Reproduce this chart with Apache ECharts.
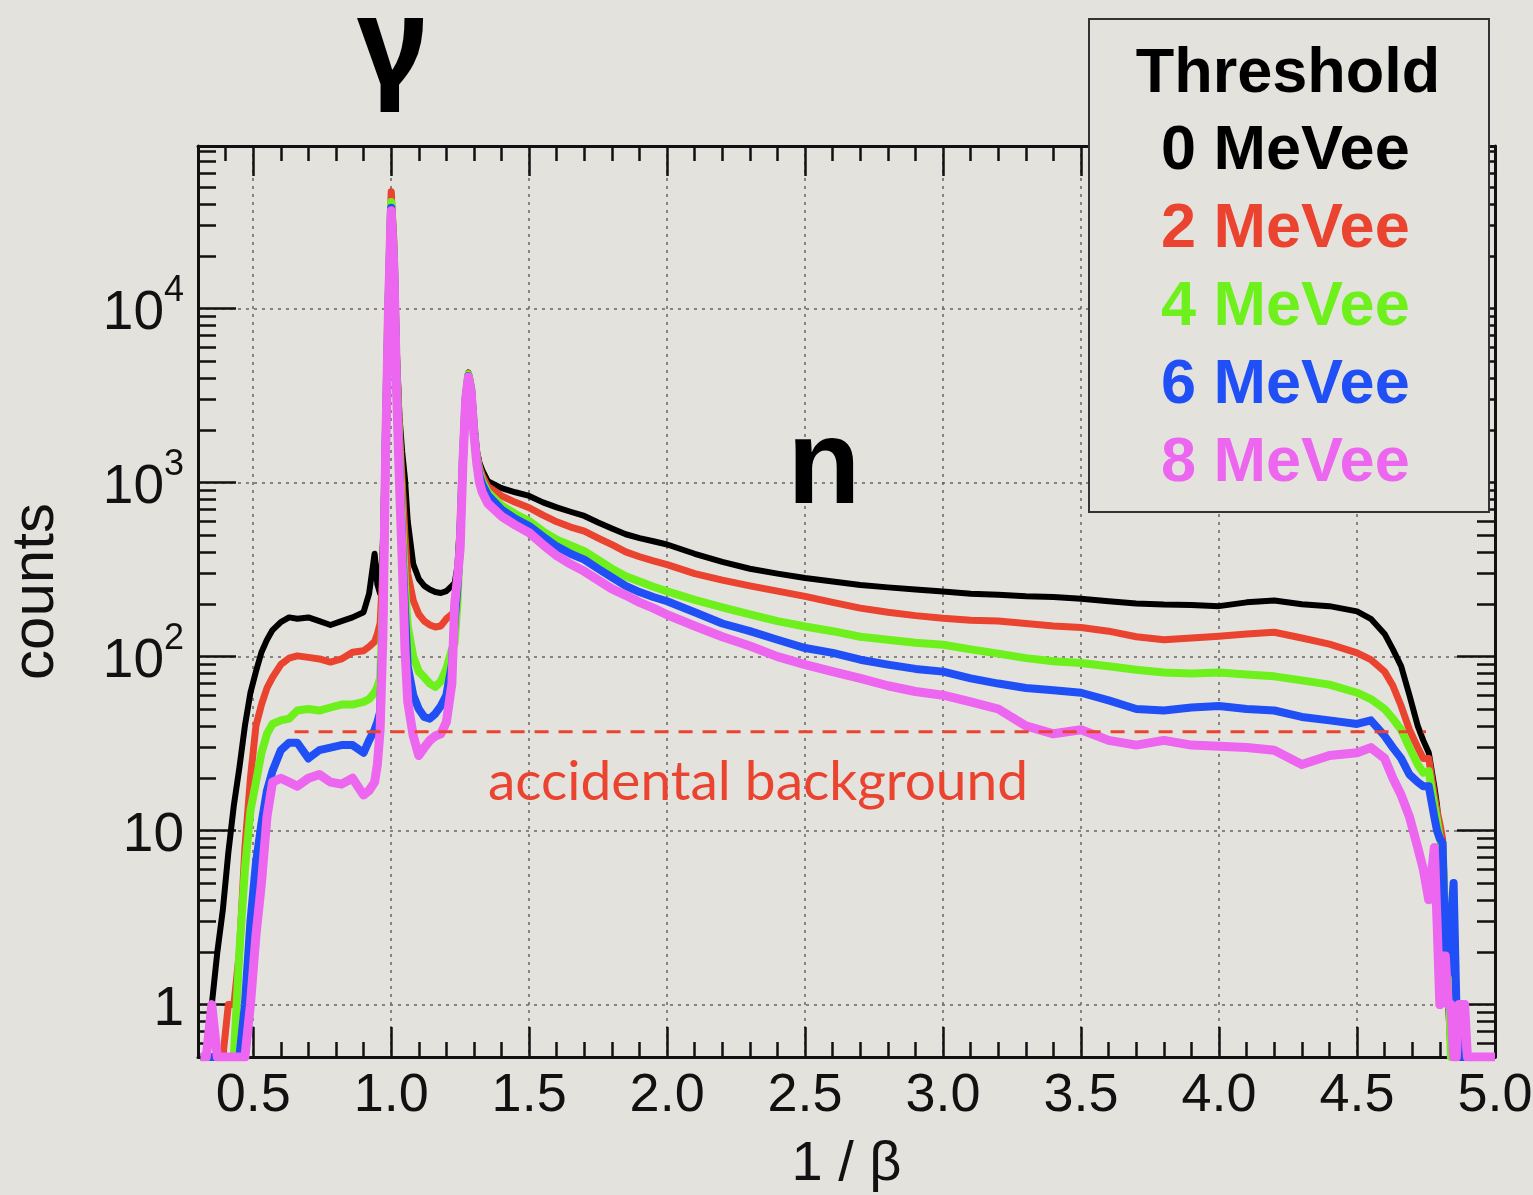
<!DOCTYPE html>
<html>
<head>
<meta charset="utf-8">
<title>1/beta spectrum</title>
<script src="https://cdn.jsdelivr.net/npm/echarts@6/dist/echarts.min.js"></script>
<style>
    html, body { margin: 0; padding: 0; background: #e4e2dd; }
    #main { width: 1533px; height: 1195px; }
</style>
</head>
<body>
<div id="main"></div>
<script>
// bin positions (1/beta)
var xs = [
    0.31, 0.33, 0.35, 0.37, 0.39, 0.41, 0.43, 0.45, 0.47, 0.49, 0.51, 0.53, 0.55, 0.57,
    0.60, 0.63, 0.66, 0.70, 0.74, 0.78, 0.82, 0.86, 0.90, 0.92, 0.94,
    0.95, 0.96, 0.97, 0.98, 0.99, 1.00, 1.01, 1.02, 1.03, 1.04, 1.05, 1.06,
    1.08, 1.10, 1.12, 1.14, 1.16, 1.18, 1.20, 1.22,
    1.23, 1.24, 1.25, 1.26, 1.27, 1.28, 1.29, 1.30, 1.31, 1.32, 1.33, 1.35,
    1.40, 1.45, 1.50, 1.55, 1.60, 1.65, 1.70, 1.75, 1.80, 1.85, 1.90, 1.95, 2.00,
    2.10, 2.20, 2.30, 2.40, 2.50, 2.60, 2.70, 2.80, 2.90, 3.00, 3.10, 3.20, 3.30, 3.40, 3.50,
    3.60, 3.70, 3.80, 3.90, 4.00, 4.10, 4.20, 4.30, 4.40, 4.50,
    4.55, 4.60, 4.63, 4.66, 4.69, 4.72, 4.74, 4.76, 4.78,
    4.79, 4.80, 4.81, 4.82, 4.83, 4.84, 4.85, 4.86, 4.87, 4.88, 4.89, 4.90, 4.95, 5.00
];

// counts per threshold (empty bins drawn on the bottom edge)
var counts0 = [
    0.5, 0.5, 1, 2, 3.5, 7.5, 14, 23, 40, 62, 82, 106, 125, 142,
    158, 168, 165, 168, 160, 152, 160, 168, 180, 230, 390,
    260, 230, 450, 2200, 12000, 47000, 26000, 6000, 2400, 1500, 1050, 600,
    340, 280, 255, 243, 235, 232, 238, 255,
    265, 330, 620, 1500, 3200, 4300, 3600, 2200, 1550, 1300, 1180, 1020,
    930, 880, 838, 770, 720, 680, 643, 590, 545, 505, 480, 460, 441,
    390, 350, 320, 300, 283, 270, 258, 250, 243, 237, 230, 227, 222, 220, 215,
    208, 202, 199, 198, 195, 205, 210, 200, 195, 182,
    165, 135, 110, 88, 60, 40, 33, 28, 18,
    14, 9, 4, 1.5, 1, 0.5, 0.5, 0.5, 0.5, 0.5, 0.5, 0.5, 0.5, 0.5
];
var counts2 = [
    0.5, 0.5, 0.5, 0.5, 0.5, 1, 1, 2, 8, 20, 40, 53, 66, 76,
    90, 98, 101, 99, 97, 93, 97, 106, 108, 114, 122,
    135, 155, 320, 2000, 11500, 47000, 24000, 5000, 2000, 1000, 500, 300,
    210, 175, 160, 152, 148, 150, 165, 175,
    185, 270, 560, 1450, 3150, 4250, 3550, 2150, 1480, 1230, 1100, 950,
    840, 770, 717, 650, 595, 555, 526, 480, 440, 400, 375, 355, 338,
    300, 275, 255, 238, 222, 205, 190, 180, 172, 166, 162, 160, 155, 150, 147,
    140, 130, 125, 128, 131, 135, 138, 128, 118, 105,
    96, 82, 68, 52, 38, 30, 26, 26, 16,
    13, 11, 9, 3, 2.5, 0.5, 0.5, 0.5, 0.5, 0.5, 0.5, 0.5, 0.5, 0.5
];
var counts4 = [
    0.5, 0.5, 0.5, 0.5, 0.5, 0.5, 0.5, 2, 6, 13, 19, 28, 36, 41,
    43, 44, 49, 50, 49, 51, 53, 53, 55, 57, 62,
    67, 75, 200, 1800, 10500, 41000, 20000, 4000, 1500, 600, 260, 150,
    100, 82, 76, 70, 67, 72, 85, 110,
    120, 200, 500, 1400, 3100, 4200, 3500, 2100, 1400, 1150, 1020, 880,
    740, 660, 601, 525, 470, 435, 404, 360, 320, 290, 270, 252, 237,
    212, 192, 175, 160, 149, 140, 130, 125, 120, 117, 110, 104, 98, 94, 92,
    88, 84, 81, 80, 81, 79, 77, 73, 69, 62,
    57, 50, 44, 38, 30, 24, 21.5, 22, 14,
    11.5, 9, 8, 3, 2, 0.5, 0.5, 0.5, 0.5, 0.5, 0.5, 0.5, 0.5, 0.5
];
var counts6 = [
    0.5, 0.5, 0.5, 0.5, 0.5, 0.5, 0.5, 0.5, 1, 3, 6.5, 11, 17, 22,
    29, 32, 32, 26, 29, 30, 31, 31, 28, 33, 38,
    42, 48, 150, 1600, 10000, 38000, 18000, 3500, 1200, 450, 180, 88,
    60, 50, 45, 44, 47, 52, 60, 90,
    160, 250, 460, 1350, 3050, 4100, 3400, 2000, 1350, 1100, 980, 850,
    700, 620, 563, 490, 430, 390, 361, 320, 285, 255, 235, 220, 208,
    180, 155, 140, 125, 112, 105, 96, 90, 85, 82, 75, 70, 66, 64, 62,
    56, 50, 49, 51, 52, 50, 49, 45, 43, 41,
    43, 35, 30, 26, 21, 19, 18, 18, 12,
    10, 9, 8.5, 2, 1.5, 3, 5, 1, 0.5, 0.5, 0.5, 0.5, 0.5, 0.5
];
var counts8 = [
    0.5, 0.5, 1, 0.5, 0.5, 0.5, 0.5, 0.5, 0.5, 1, 2.5, 5, 12, 19,
    20, 19, 18, 20, 21, 19, 18.5, 20, 16, 17, 19,
    24, 38, 130, 1500, 9500, 36500, 17000, 3200, 1000, 350, 110, 55,
    35, 27, 30, 33, 35, 36, 42, 70,
    200, 280, 420, 1300, 3000, 4050, 3300, 1900, 1300, 1000, 880, 760,
    640, 570, 515, 440, 380, 340, 309, 275, 245, 225, 205, 190, 174,
    150, 130, 115, 100, 90, 82, 75, 68, 63, 60, 55, 50, 40, 36, 38,
    33, 31, 33, 31, 30.5, 30, 29, 24, 27, 28,
    30, 26, 20, 16, 12, 8, 6, 4, 8,
    3, 1, 1.9, 1.9, 1, 1, 0.5, 0.5, 1, 1, 1, 0.5, 0.5, 0.5
];

var thresholds = ['0 MeVee', '2 MeVee', '4 MeVee', '6 MeVee', '8 MeVee'];
var allCounts = [counts0, counts2, counts4, counts6, counts8];
var colors = ['#000000', '#ea432f', '#6df01c', '#1f4ff5', '#ec66ef'];
var widths = [6, 7, 8, 8, 9];

// accidental background level
var bgLevel = 37;
var bgFrom = 0.65;
var bgTo = 4.75;

var xMin = 0.3, xMax = 5.0;
var yMin = 0.5, yMax = 86000;

var bgColor = '#e4e2dd';
var labelFont = "'Liberation Sans', Arial, sans-serif";

function pairs(vals) {
    var out = [];
    for (var i = 0; i < xs.length; i++) {
        out.push([xs[i], vals[i]]);
    }
    return out;
}

var series = [];
for (var k = 0; k < thresholds.length; k++) {
    series.push({
        name: thresholds[k],
        type: 'line',
        data: pairs(allCounts[k]),
        showSymbol: false,
        clip: true,
        z: 2 + k * 0.01,
        lineStyle: { color: colors[k], width: widths[k], join: 'round' },
        itemStyle: { color: colors[k] },
        emphasis: { disabled: true }
    });
}
series.push({
    name: 'accidental',
    type: 'line',
    data: [[bgFrom, bgLevel], [bgTo, bgLevel]],
    showSymbol: false,
    z: 3,
    lineStyle: { color: '#ea432f', width: 3, type: [14, 10] },
    emphasis: { disabled: true }
});

var tickStyle = { color: '#111', width: 2.5 };
var gridLine = { show: true, lineStyle: { color: '#666', width: 1.5, type: [3, 5] } };

function yLabel(v) {
    var l = Math.log10(v);
    var e = Math.round(l);
    if (Math.abs(l - e) > 1e-6) return '';
    if (e === 0) return '{b|1}';
    if (e === 1) return '{b|10}';
    return '{b|10}{s|' + e + '}';
}

function xLabel(v) {
    if (Math.abs(v * 2 - Math.round(v * 2)) > 1e-6) return '';
    return v.toFixed(1);
}

var myChart = echarts.init(document.getElementById('main'));
var option = {
    backgroundColor: bgColor,
    animation: false,
    grid: { left: 198, right: 38, top: 146, bottom: 138, outerBoundsMode: 'none' },
    legend: {
        orient: 'vertical',
        left: 1155,
        top: 113,
        padding: 0,
        itemGap: 0,
        itemWidth: 0,
        itemHeight: 0,
        selectedMode: false,
        z: 6,
        textStyle: { fontSize: 63, fontWeight: 'bold', fontFamily: "'Liberation Sans', Arial, sans-serif", lineHeight: 78 },
        data: thresholds.map(function (t, i) {
            return { name: t, textStyle: { color: colors[i] } };
        })
    },
    xAxis: [{
        type: 'value',
        min: xMin,
        max: xMax,
        splitNumber: 10,
        name: '1 / β',
        nameLocation: 'middle',
        nameGap: 80,
        nameTextStyle: { fontSize: 56, color: '#111', fontFamily: labelFont },
        axisLine: { show: true, lineStyle: { color: '#111', width: 3 } },
        axisTick: { show: true, inside: true, length: 30, lineStyle: tickStyle },
        minorTick: { show: true, splitNumber: 5, length: 15, lineStyle: tickStyle },
        splitLine: gridLine,
        axisLabel: {
            formatter: xLabel, margin: 12, color: '#111', fontSize: 54, fontFamily: labelFont,
            showMinLabel: false
        }
    }, {
        type: 'value',
        position: 'top',
        min: xMin,
        max: xMax,
        splitNumber: 10,
        axisLine: { show: true, lineStyle: { color: '#111', width: 3 } },
        axisTick: { show: true, inside: true, length: 30, lineStyle: tickStyle },
        minorTick: { show: true, splitNumber: 5, length: 15, lineStyle: tickStyle },
        splitLine: { show: false },
        axisLabel: { show: false }
    }],
    yAxis: [{
        type: 'log',
        logBase: 10,
        min: yMin,
        max: yMax,
        name: 'counts',
        nameLocation: 'middle',
        nameRotate: 90,
        nameGap: 132,
        nameTextStyle: { fontSize: 60, color: '#111', fontFamily: labelFont, padding: [0, 0, 0, 20] },
        axisLine: { show: true, lineStyle: { color: '#111', width: 3 } },
        axisTick: { show: true, inside: true, length: 38, lineStyle: tickStyle },
        minorTick: { show: true, splitNumber: 9, length: 18, lineStyle: tickStyle },
        splitLine: gridLine,
        axisLabel: {
            formatter: yLabel,
            margin: 14,
            color: '#111',
            rich: {
                b: { fontSize: 55, fontFamily: labelFont, color: '#111', lineHeight: 72, padding: [10, 0, 0, 0] },
                s: { fontSize: 36, fontFamily: labelFont, color: '#111', verticalAlign: 'top', lineHeight: 38 }
            }
        }
    }, {
        type: 'log',
        logBase: 10,
        position: 'right',
        min: yMin,
        max: yMax,
        axisLine: { show: true, lineStyle: { color: '#111', width: 3 } },
        axisTick: { show: true, inside: true, length: 38, lineStyle: tickStyle },
        minorTick: { show: true, splitNumber: 9, length: 18, lineStyle: tickStyle },
        splitLine: { show: false },
        axisLabel: { show: false }
    }],
    graphic: [
        {
            type: 'rect',
            z: 5,
            shape: { x: 1089, y: 19, width: 400, height: 493 },
            style: { fill: bgColor, stroke: '#333', lineWidth: 2 }
        },
        {
            type: 'text',
            z: 6,
            style: {
                text: 'Threshold', x: 1288, y: 75,
                textAlign: 'center', textVerticalAlign: 'middle',
                font: "bold 63px 'Liberation Sans', Arial, sans-serif", fill: '#000'
            }
        },
        {
            type: 'text',
            z: 6,
            style: {
                text: 'γ', x: 392, y: 51,
                textAlign: 'center', textVerticalAlign: 'middle',
                font: "bold 124px 'Noto Sans', 'DejaVu Sans', sans-serif", fill: '#000',
                shadowColor: 'rgba(0,0,0,0.35)', shadowBlur: 6, shadowOffsetX: 3, shadowOffsetY: 3
            }
        },
        {
            type: 'text',
            z: 6,
            style: {
                text: 'n', x: 824, y: 470,
                textAlign: 'center', textVerticalAlign: 'middle',
                font: "bold 120px 'Liberation Sans', Arial, sans-serif", fill: '#000',
                shadowColor: 'rgba(0,0,0,0.35)', shadowBlur: 6, shadowOffsetX: 3, shadowOffsetY: 3
            }
        },
        {
            type: 'text',
            z: 6,
            style: {
                text: 'accidental background', x: 758, y: 782,
                textAlign: 'center', textVerticalAlign: 'middle',
                font: "55px Lato, 'Open Sans', sans-serif", fill: '#ea432f'
            }
        }
    ],
    series: series
};
myChart.setOption(option);
</script>
</body>
</html>
